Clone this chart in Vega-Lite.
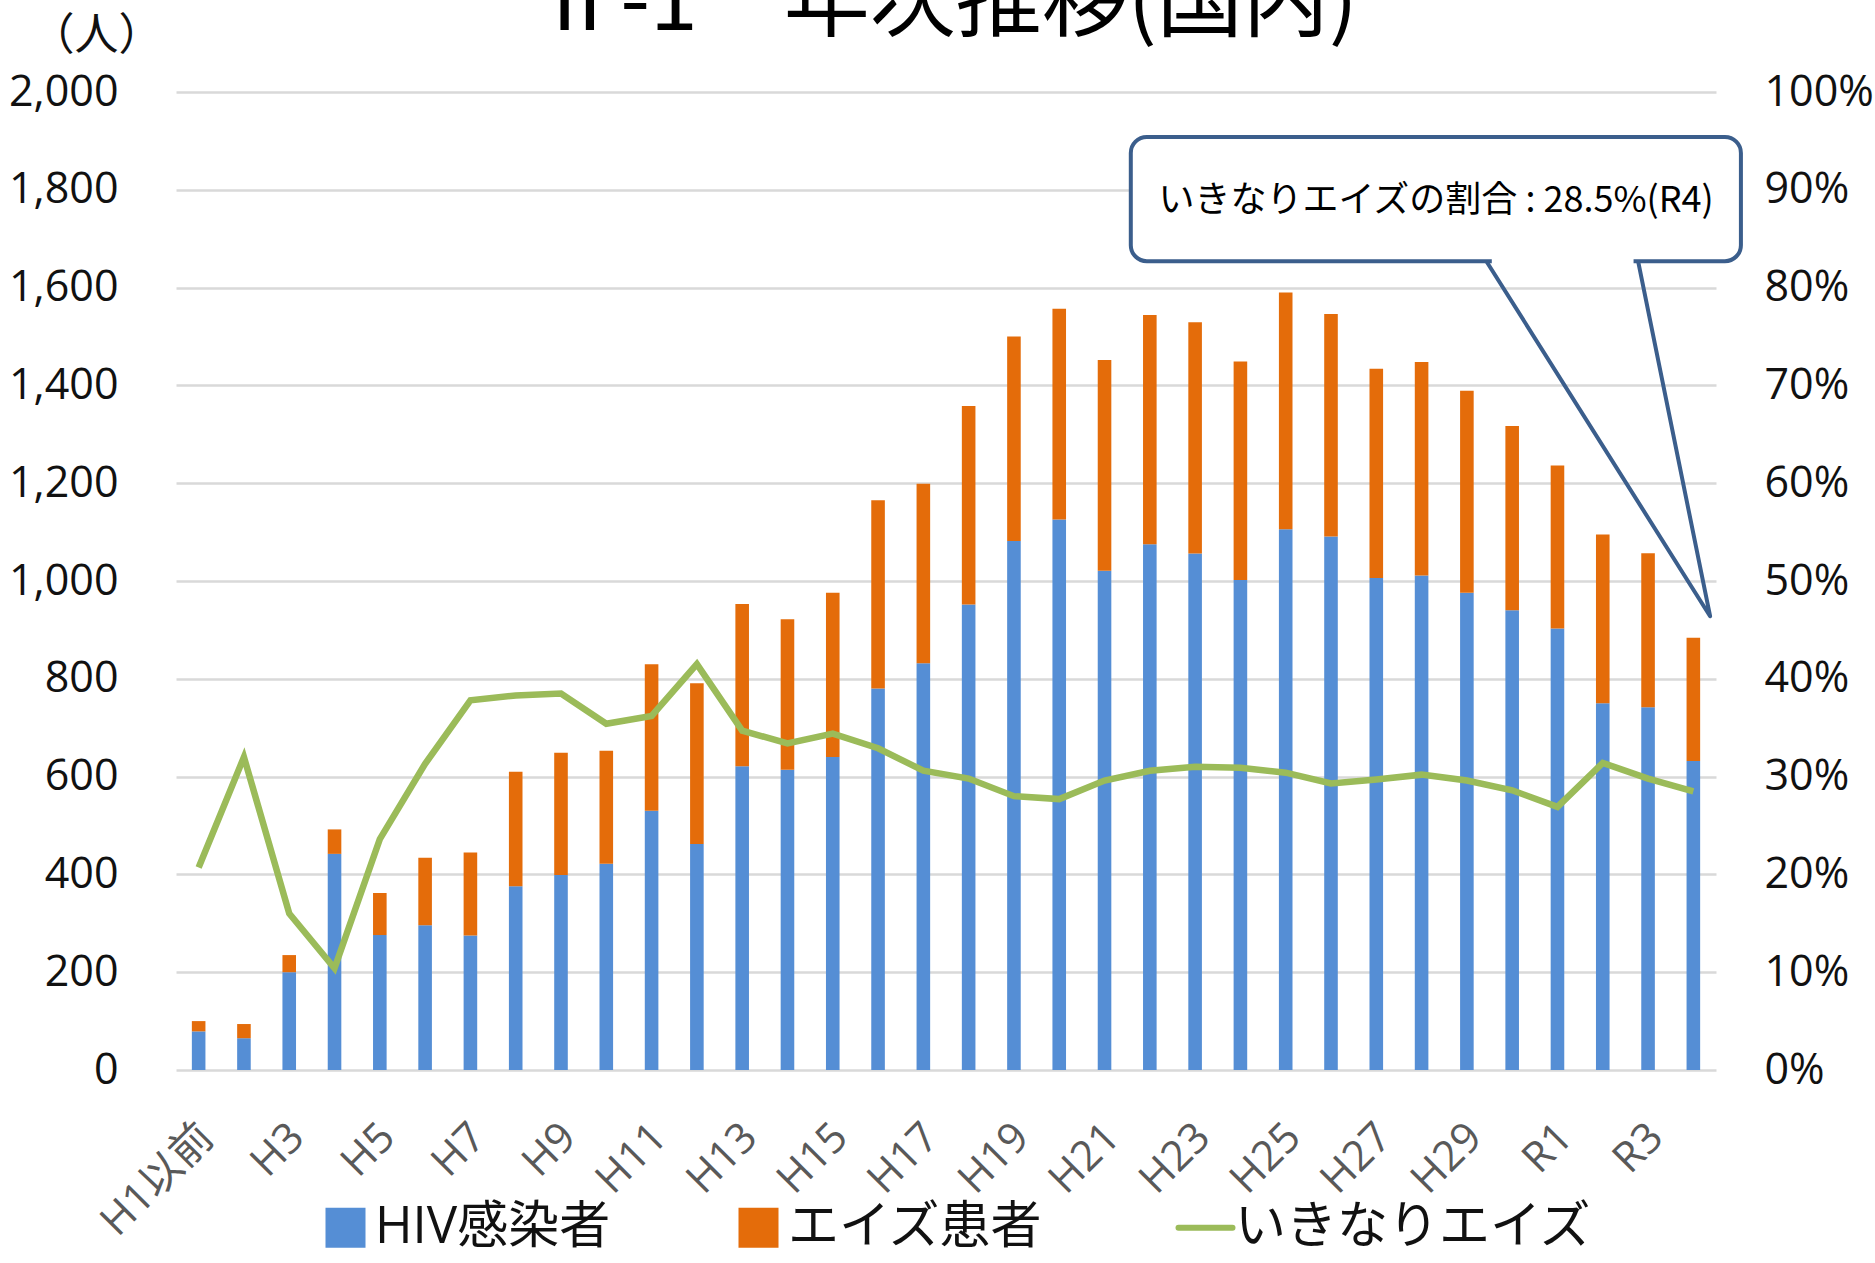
{
  "$schema": "https://vega.github.io/schema/vega-lite/v6.json",
  "autosize": {"type": "none"},
  "padding": {"left": 176, "top": 92, "right": 159, "bottom": 193},
  "width": 1540,
  "height": 978,
  "background": "white",
  "title": {
    "text": "Ⅱ-1　年次推移(国内)",
    "font": "Noto Sans CJK JP",
    "fontSize": 86,
    "fontWeight": "normal",
    "color": "#000000",
    "anchor": "middle",
    "frame": "group",
    "baseline": "alphabetic",
    "offset": -102
  },
  "config": {
    "view": {"stroke": null},
    "font": "Open Sans, Noto Sans CJK JP"
  },
  "datasets": {
    "main": [
      {"year": "H1以前", "HIV感染者": 79, "エイズ患者": 21, "rate": 0.207},
      {"year": "H2", "HIV感染者": 65, "エイズ患者": 29, "rate": 0.320},
      {"year": "H3", "HIV感染者": 200, "エイズ患者": 35, "rate": 0.160},
      {"year": "H4", "HIV感染者": 442, "エイズ患者": 50, "rate": 0.104},
      {"year": "H5", "HIV感染者": 276, "エイズ患者": 86, "rate": 0.236},
      {"year": "H6", "HIV感染者": 296, "エイズ患者": 138, "rate": 0.313},
      {"year": "H7", "HIV感染者": 275, "エイズ患者": 170, "rate": 0.378},
      {"year": "H8", "HIV感染者": 376, "エイズ患者": 234, "rate": 0.383},
      {"year": "H9", "HIV感染者": 399, "エイズ患者": 250, "rate": 0.385},
      {"year": "H10", "HIV感染者": 422, "エイズ患者": 231, "rate": 0.354},
      {"year": "H11", "HIV感染者": 530, "エイズ患者": 300, "rate": 0.362},
      {"year": "H12", "HIV感染者": 462, "エイズ患者": 329, "rate": 0.415},
      {"year": "H13", "HIV感染者": 621, "エイズ患者": 332, "rate": 0.347},
      {"year": "H14", "HIV感染者": 614, "エイズ患者": 308, "rate": 0.334},
      {"year": "H15", "HIV感染者": 640, "エイズ患者": 336, "rate": 0.344},
      {"year": "H16", "HIV感染者": 780, "エイズ患者": 385, "rate": 0.329},
      {"year": "H17", "HIV感染者": 832, "エイズ患者": 367, "rate": 0.306},
      {"year": "H18", "HIV感染者": 952, "エイズ患者": 406, "rate": 0.298},
      {"year": "H19", "HIV感染者": 1082, "エイズ患者": 418, "rate": 0.280},
      {"year": "H20", "HIV感染者": 1126, "エイズ患者": 431, "rate": 0.277},
      {"year": "H21", "HIV感染者": 1021, "エイズ患者": 431, "rate": 0.296},
      {"year": "H22", "HIV感染者": 1075, "エイズ患者": 469, "rate": 0.306},
      {"year": "H23", "HIV感染者": 1056, "エイズ患者": 473, "rate": 0.310},
      {"year": "H24", "HIV感染者": 1002, "エイズ患者": 447, "rate": 0.309},
      {"year": "H25", "HIV感染者": 1106, "エイズ患者": 484, "rate": 0.304},
      {"year": "H26", "HIV感染者": 1091, "エイズ患者": 455, "rate": 0.293},
      {"year": "H27", "HIV感染者": 1006, "エイズ患者": 428, "rate": 0.297},
      {"year": "H28", "HIV感染者": 1011, "エイズ患者": 437, "rate": 0.302},
      {"year": "H29", "HIV感染者": 976, "エイズ患者": 413, "rate": 0.296},
      {"year": "H30", "HIV感染者": 940, "エイズ患者": 377, "rate": 0.286},
      {"year": "R1", "HIV感染者": 903, "エイズ患者": 333, "rate": 0.269},
      {"year": "R2", "HIV感染者": 750, "エイズ患者": 345, "rate": 0.314},
      {"year": "R3", "HIV感染者": 742, "エイズ患者": 315, "rate": 0.298},
      {"year": "R4", "HIV感染者": 632, "エイズ患者": 252, "rate": 0.285}
    ],
    "box": [{"x1": 21.08, "x2": 34.55, "y1": 1654, "y2": 1908}],
    "gap": [{"x1": 29.05, "x2": 32.18, "y": 1654}],
    "pointer": [
      {"o": 1, "x": 28.93, "y": 1654},
      {"o": 2, "x": 33.87, "y": 928},
      {"o": 3, "x": 32.28, "y": 1654}
    ],
    "note": [{"x": 27.82, "y": 1777, "label": "いきなりエイズの割合 : 28.5%(R4)"}]
  },
  "layer": [
    {
      "data": {"name": "main"},
      "transform": [{"fold": ["HIV感染者", "エイズ患者"], "as": ["series", "count"]}],
      "mark": {"type": "bar", "width": {"band": 0.3}},
      "encoding": {
        "x": {
          "field": "year", "type": "nominal", "sort": null,
          "scale": {"paddingInner": 0, "paddingOuter": 0},
          "axis": {
            "title": null,
            "values": ["H1以前", "H3", "H5", "H7", "H9", "H11", "H13", "H15", "H17", "H19", "H21", "H23", "H25", "H27", "H29", "R1", "R3"],
            "labelAngle": -45,
            "labelFontSize": 42,
            "labelColor": "#595959",
            "labelPadding": 46,
            "labelOffset": -6,
            "labelFont": "Open Sans, Noto Sans CJK JP",
            "domain": false,
            "ticks": false,
            "grid": false
          }
        },
        "y": {
          "field": "count", "type": "quantitative", "stack": "zero",
          "scale": {"domain": [0, 2000], "nice": false},
          "axis": {
            "orient": "left",
            "values": [0, 200, 400, 600, 800, 1000, 1200, 1400, 1600, 1800, 2000],
            "format": ",d",
            "labelFontSize": 43,
            "labelColor": "#111111",
            "labelPadding": 58,
            "labelFont": "Open Sans, Noto Sans CJK JP",
            "domain": false,
            "ticks": false,
            "grid": true,
            "gridColor": "#d9d9d9",
            "gridWidth": 2.5,
            "title": "（人）",
            "titleFont": "Noto Sans CJK JP",
            "titleFontSize": 44,
            "titleFontWeight": "normal",
            "titleColor": "#111111",
            "titleAngle": 0,
            "titleAlign": "center",
            "titleBaseline": "middle",
            "titleX": -80,
            "titleY": -56
          }
        },
        "color": {
          "field": "series", "type": "nominal",
          "scale": {
            "domain": ["HIV感染者", "エイズ患者", "いきなりエイズ"],
            "range": ["#558ED5", "#E46C0A", "#9BBB59"]
          },
          "legend": {
            "orient": "none",
            "legendX": 144,
            "legendY": 1110,
            "direction": "horizontal",
            "title": null,
            "padding": 0,
            "labelFontSize": 51,
            "labelFont": "Open Sans, Noto Sans CJK JP",
            "labelColor": "#111111",
            "labelLimit": 1000,
            "labelOffset": 4,
            "symbolSize": 2916,
            "symbolStrokeWidth": 6,
            "columnPadding": 122,
            "encode": {
              "symbols": {
                "update": {
                  "shape": {"signal": "datum.value === 'いきなりエイズ' ? 'stroke' : 'square'"},
                  "size": {"signal": "datum.value === 'いきなりエイズ' ? 2916 : 1600"},
                  "strokeWidth": {"signal": "datum.value === 'いきなりエイズ' ? 6 : 0"},
                  "fill": {"signal": "scale('color', datum.value)"},
                  "stroke": {"signal": "scale('color', datum.value)"},
                  "strokeCap": {"value": "round"},
                  "opacity": {"value": 1}
                }
              }
            }
          }
        },
        "order": {"field": "series", "type": "nominal", "sort": "ascending"}
      }
    },
    {
      "data": {"name": "main"},
      "mark": {"type": "line", "strokeWidth": 6.5},
      "encoding": {
        "x": {
          "field": "year", "type": "nominal", "sort": null,
          "scale": {"paddingInner": 0, "paddingOuter": 0},
          "axis": null
        },
        "y": {
          "field": "rate", "type": "quantitative",
          "scale": {"domain": [0, 1], "nice": false},
          "axis": {
            "orient": "right",
            "values": [0, 0.1, 0.2, 0.3, 0.4, 0.5, 0.6, 0.7, 0.8, 0.9, 1],
            "format": ".0%",
            "labelFontSize": 43,
            "labelColor": "#111111",
            "labelPadding": 48,
            "labelFont": "Open Sans, Noto Sans CJK JP",
            "domain": false,
            "ticks": false,
            "grid": false,
            "title": null
          }
        },
        "color": {"datum": "いきなりエイズ", "type": "nominal"}
      }
    },
    {
      "data": {"name": "box"},
      "mark": {"type": "rect", "fill": "white", "stroke": "#3B5E8C", "strokeWidth": 4, "cornerRadius": 16},
      "encoding": {
        "x": {"field": "x1", "type": "quantitative", "scale": {"domain": [0, 34], "nice": false, "zero": false}, "axis": null},
        "x2": {"field": "x2"},
        "y": {"field": "y1", "type": "quantitative", "scale": {"domain": [0, 2000], "nice": false}, "axis": null},
        "y2": {"field": "y2"}
      }
    },
    {
      "data": {"name": "gap"},
      "mark": {"type": "rule", "stroke": "white", "strokeWidth": 7},
      "encoding": {
        "x": {"field": "x1", "type": "quantitative", "scale": {"domain": [0, 34], "nice": false, "zero": false}, "axis": null},
        "x2": {"field": "x2"},
        "y": {"field": "y", "type": "quantitative", "scale": {"domain": [0, 2000], "nice": false}, "axis": null}
      }
    },
    {
      "data": {"name": "pointer"},
      "mark": {"type": "line", "stroke": "#3B5E8C", "strokeWidth": 4, "strokeJoin": "round"},
      "encoding": {
        "x": {"field": "x", "type": "quantitative", "scale": {"domain": [0, 34], "nice": false, "zero": false}, "axis": null},
        "y": {"field": "y", "type": "quantitative", "scale": {"domain": [0, 2000], "nice": false}, "axis": null},
        "order": {"field": "o", "type": "quantitative"}
      }
    },
    {
      "data": {"name": "note"},
      "mark": {"type": "text", "font": "Noto Sans CJK JP", "fontSize": 36, "color": "#000000", "align": "center", "baseline": "middle"},
      "encoding": {
        "x": {"field": "x", "type": "quantitative", "scale": {"domain": [0, 34], "nice": false, "zero": false}, "axis": null},
        "y": {"field": "y", "type": "quantitative", "scale": {"domain": [0, 2000], "nice": false}, "axis": null},
        "text": {"field": "label"}
      }
    }
  ],
  "resolve": {"scale": {"x": "independent", "y": "independent"}}
}
